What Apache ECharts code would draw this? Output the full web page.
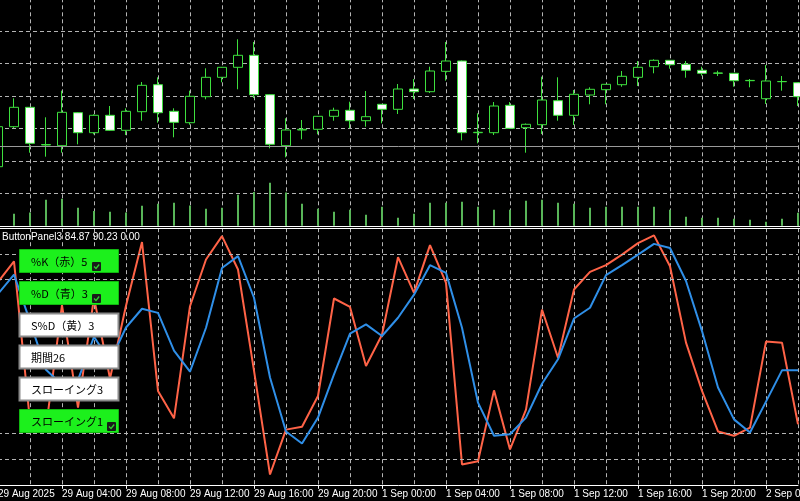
<!DOCTYPE html>
<html><head><meta charset="utf-8">
<script src="https://cdn.jsdelivr.net/npm/echarts@6/dist/echarts.min.js"></script>
<style>html,body{margin:0;padding:0;background:#000;}#c{width:800px;height:501px;}</style>
</head><body><div id="c"></div>
<script>
// ---- data ----
const categories = [
 '29 Aug 2025','29 Aug 01:00','29 Aug 02:00','29 Aug 03:00','29 Aug 04:00','29 Aug 05:00','29 Aug 06:00','29 Aug 07:00',
 '29 Aug 08:00','29 Aug 09:00','29 Aug 10:00','29 Aug 11:00','29 Aug 12:00','29 Aug 13:00','29 Aug 14:00','29 Aug 15:00',
 '29 Aug 16:00','29 Aug 17:00','29 Aug 18:00','29 Aug 19:00','29 Aug 20:00','29 Aug 21:00','29 Aug 22:00','29 Aug 23:00',
 '1 Sep 00:00','1 Sep 01:00','1 Sep 02:00','1 Sep 03:00','1 Sep 04:00','1 Sep 05:00','1 Sep 06:00','1 Sep 07:00',
 '1 Sep 08:00','1 Sep 09:00','1 Sep 10:00','1 Sep 11:00','1 Sep 12:00','1 Sep 13:00','1 Sep 14:00','1 Sep 15:00',
 '1 Sep 16:00','1 Sep 17:00','1 Sep 18:00','1 Sep 19:00','1 Sep 20:00','1 Sep 21:00','1 Sep 22:00','1 Sep 23:00',
 '2 Sep 00:00','2 Sep 01:00','2 Sep 02:00'
];
const openV  = [59.1,99.1,118.5,80.8,80.1,113.1,93.1,110.5,95.5,114.1,141.1,114.5,103.1,129.1,148.5,158.5,170.5,131.1,80.1,95.8,96.5,109.5,115.5,105.1,121.5,116.5,136.8,134.1,154.5,164.8,93.1,93.1,120.5,98.1,101.1,125.1,110.5,130.8,136.1,141.1,148.5,159.1,165.5,161.5,155.5,152.8,152.5,145.1,127.1,144.1,143.1];
const closeV = [99.1,118.5,82.5,81.3,113.5,93.1,110.5,95.5,114.5,140.5,113.1,103.5,129.5,148.5,158.5,170.5,131.1,81.5,95.8,96.5,109.5,115.5,105.1,109.1,116.5,136.8,134.1,154.8,164.8,93.1,93.5,119.8,97.5,101.5,125.8,110.5,131.5,136.5,141.5,149.5,158.5,165.5,161.1,155.5,152.5,152.6,145.1,145.4,144.8,144.3,129.1];
const lowV   = [57.8,97.8,73.1,69.1,73.1,81.5,91.5,94.8,90.8,105.1,103.1,88.5,101.1,126.5,143.5,136.5,127.8,77.5,68.5,86.5,91.5,105.1,97.5,99.1,102.5,111.8,126.8,132.8,145.1,85.5,82.5,90.8,96.8,73.1,91.8,105.1,100.8,121.5,121.5,139.1,139.8,152.5,157.1,148.1,150.1,149.8,139.1,138.5,121.8,135.1,119.8];
const highV  = [101.8,127.5,118.8,108.5,135.1,113.8,111.5,119.8,117.5,143.8,148.5,117.5,135.1,157.5,158.8,186.5,183.8,131.8,107.5,105.8,109.8,118.1,124.1,134.8,121.8,141.8,146.8,159.1,183.8,165.3,112.5,123.8,123.8,102.3,149.1,148.5,135.8,138.5,141.8,154.8,164.8,166.5,165.8,164.8,159.1,155.1,152.8,146.8,160.8,149.8,143.8];
const volume = [15,12,13.3,26,27,18,14.7,14,13.3,20,22,23,20.3,17,18,31,33.7,43,33.3,22,17,14,16,11,19,8,12,23,23,24,19,16,16,25,26,23,22,18,19,19,19,19,16,9,8,8,7,6,4,7,13];
const bidLevel = 79.5;
const kLine = [79.1,87.1,24.7,22.3,70.0,30.1,72.9,41.4,69.8,94.6,36.6,25.9,69.6,87.8,96.9,83.9,44.5,4.0,21.5,22.6,34.6,72.6,69.3,46.3,58.5,88.7,74.8,93.4,78.7,7.9,9.2,36.8,13.8,29.3,68.3,49.5,76.1,83.0,85.6,89.7,94.2,97.2,85.2,55.4,36.6,20.8,19.1,22.3,55.8,55.4,23.6];
const dLine = [74.4,81.9,63.7,44.8,39.0,40.9,57.7,48.1,61.3,68.6,67.0,52.3,44.1,61.2,84.5,89.1,72.9,41.8,20.8,16.1,26.2,43.0,58.9,62.5,58.0,65.1,74.1,85.6,82.6,61.2,32.0,19.1,19.7,26.2,39.4,48.9,64.8,69.0,81.7,85.6,89.7,93.9,92.3,79.4,59.9,37.9,25.5,20.4,32.4,44.6,44.6];
const levels = [10, 20, 80, 90];
const headerText = 'ButtonPanel3 84.87 90.23 0.00';
const buttonLabels = ['%K（赤）5','%D（青）3','S%D（黄）3','期間26','スローイング3','スローイング1'];
const buttonOn = [true, true, false, false, false, true];

// ---- layout / style ----
const uiFont = '"Liberation Sans", Arial, sans-serif';
const gridLine = {color: '#b4b4b4', width: 1, type: [4, 3]};
const checkX = [92, 92, 0, 0, 0, 107];

const candleData = openV.map((o, i) => [o, closeV[i], lowV[i], highV[i]]);

const graphics = [
  {type: 'line', z: 100, shape: {x1: 0, y1: 226.5, x2: 800, y2: 226.5}, style: {stroke: '#ffffff', lineWidth: 1}},
  {type: 'line', z: 100, shape: {x1: 0, y1: 228.5, x2: 800, y2: 228.5}, style: {stroke: '#ffffff', lineWidth: 1}},
  {type: 'text', z: 100, x: 2, y: 237, style: {text: headerText, fill: '#ffffff', font: '10px ' + uiFont, verticalAlign: 'middle'}}
];
buttonLabels.forEach((t, i) => {
  const top = 249 + i * 32;
  const on = buttonOn[i];
  graphics.push({type: 'rect', z: 100, shape: {x: 19.5, y: top + 0.5, width: 99, height: 23},
    style: on ? {fill: '#1cf01c', stroke: '#10b810', lineWidth: 1} : {fill: '#ffffff', stroke: '#8a8a8a', lineWidth: 2}});
  graphics.push({type: 'text', z: 101, x: 31, y: top + 12.5,
    style: {text: t, fill: '#000000', font: '11px "Noto Sans CJK JP", sans-serif', verticalAlign: 'middle'}});
  if (on) {
    const cx = checkX[i];
    graphics.push({type: 'rect', z: 102, shape: {x: cx, y: top + 13, width: 9, height: 9, r: 1}, style: {fill: '#1a1a1a'}});
    graphics.push({type: 'polyline', z: 103, shape: {points: [[cx + 2, top + 17.5], [cx + 4, top + 19.5], [cx + 7.2, top + 15.5]]},
      style: {stroke: '#2fd02f', lineWidth: 1.3, fill: null}});
  }
});

const chart = echarts.init(document.getElementById('c'), null, {renderer: 'canvas'});
chart.setOption({
  animation: false,
  backgroundColor: '#000000',
  grid: [
    {left: -2, width: 800, top: -1.7, height: 227.5, outerBoundsMode: 'none', containLabel: false},
    {left: -2, width: 800, top: 228.2, height: 256.6, outerBoundsMode: 'none', containLabel: false}
  ],
  xAxis: [
    {type: 'category', gridIndex: 0, data: categories, boundaryGap: false,
     axisLine: {show: false}, axisTick: {show: false}, axisLabel: {show: false},
     splitLine: {show: true, interval: 1, lineStyle: gridLine}},
    {type: 'category', gridIndex: 1, data: categories, boundaryGap: false,
     axisLine: {show: true, lineStyle: {color: '#ffffff', width: 1}},
     axisTick: {show: true, interval: 3, length: 4, lineStyle: {color: '#ffffff'}},
     axisLabel: {show: true, interval: 3, align: 'left', color: '#ffffff', fontSize: 10, fontFamily: uiFont, margin: 4,
                 hideOverlap: false},
     splitLine: {show: true, interval: 1, lineStyle: gridLine}}
  ],
  yAxis: [
    {type: 'value', gridIndex: 0, min: 0, max: 227.5, interval: 32.5,
     axisLine: {show: false}, axisTick: {show: false}, axisLabel: {show: false},
     splitLine: {show: true, showMinLine: false, showMaxLine: false, lineStyle: gridLine}},
    {type: 'value', gridIndex: 0, min: 0, max: 227.5, show: false, splitLine: {show: false}},
    {type: 'value', gridIndex: 1, min: 0, max: 100, show: false, splitLine: {show: false}}
  ],
  series: [
    {type: 'bar', xAxisIndex: 0, yAxisIndex: 1, data: volume, barWidth: 2,
     itemStyle: {color: '#58b558'}, z: 1, silent: true},
    {type: 'candlestick', xAxisIndex: 0, yAxisIndex: 0, data: candleData, barWidth: 10, clip: true,
     itemStyle: {color: '#000000', color0: '#ffffff', borderColor: '#3ee03e', borderColor0: '#3ee03e', borderWidth: 1},
     z: 3,
     markLine: {silent: true, symbol: 'none', label: {show: false},
       lineStyle: {color: '#9a9a9a', type: 'solid', width: 1},
       data: [{yAxis: bidLevel}]}},
    {type: 'line', xAxisIndex: 1, yAxisIndex: 2, data: kLine, symbol: 'none', z: 4,
     lineStyle: {color: '#ff6347', width: 2}, itemStyle: {color: '#ff6347'},
     markLine: {silent: true, symbol: 'none', label: {show: false},
       lineStyle: {color: '#b4b4b4', type: [4, 3], width: 1},
       data: levels.map(v => ({yAxis: v}))}},
    {type: 'line', xAxisIndex: 1, yAxisIndex: 2, data: dLine, symbol: 'none', z: 5,
     lineStyle: {color: '#2f8fe8', width: 2}, itemStyle: {color: '#2f8fe8'}}
  ],
  graphic: graphics
});
</script>
</body></html>
